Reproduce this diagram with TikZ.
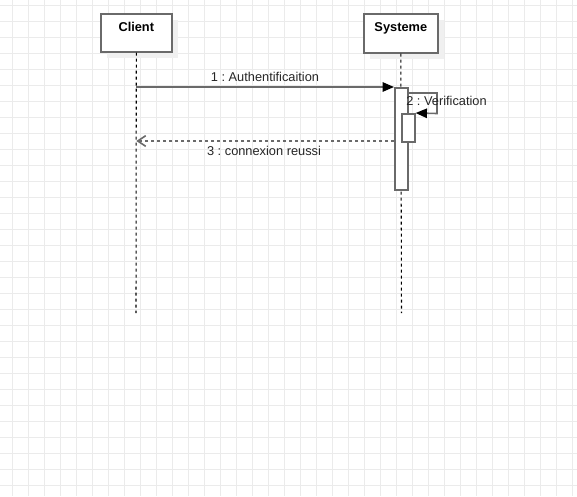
\documentclass[tikz,border=0pt]{standalone}
\usepackage{fontspec}
\setmainfont{Liberation Sans}
\usetikzlibrary{arrows.meta}
\definecolor{gridc}{HTML}{EBEBEB}
\definecolor{linec}{HTML}{6A6A6A}
\definecolor{shadowc}{HTML}{F0F0F0}
\frenchspacing
\begin{document}
\begin{tikzpicture}[x=0.75pt,y=-0.75pt,
  lifebox/.style={draw=linec,line width=1.2pt,fill=white,minimum width=71*0.75pt,minimum height=38*0.75pt,inner sep=0pt,anchor=north west,font=\fontsize{9.6}{10}\selectfont\bfseries,text depth=0pt,align=center},
  lifeline/.style={draw=black,line width=0.8pt,dash pattern=on 2.25pt off 2.25pt},
  actbar/.style={draw=linec,line width=1.2pt,fill=white,inner sep=0pt,anchor=north west},
  msg/.style={draw=linec,line width=1.2pt},
  arr/.style={-{Triangle[length=8.5pt,width=7pt,fill=black,color=black]}},
  lbl/.style={font=\fontsize{9.6}{11}\selectfont,text=black!85,inner sep=0pt}
]
\useasboundingbox (0,0) rectangle (577,496);
\fill[white] (0,0) rectangle (577,496);
% grid
\foreach \x in {12,28,...,572} \draw[gridc,line width=0.75pt] (\x,0) -- (\x,496);
\foreach \y in {5,21,...,485} \draw[gridc,line width=0.75pt] (0,\y) -- (577,\y);
% shadows
\fill[shadowc] (107,20) rectangle (178,58);
\fill[shadowc] (370,20) rectangle (444,59);
% lifelines
\coordinate (cEnd) at (136,313);
\coordinate (sEnd) at (401.5,313);
\node[lifebox] (client) at (100,13) {\raisebox{9.5pt}{Client}};
\node[lifebox,minimum width=74*0.75pt,minimum height=39*0.75pt] (sys) at (363,13) {\raisebox{10pt}{Systeme}};
\draw[lifeline] (client.south) -- (cEnd);
\draw[lifeline] (sys.south) -- (sEnd);
% activation bars
\node[actbar,minimum width=13*0.75pt,minimum height=102*0.75pt] (act1) at (394,87) {};
\node[actbar,minimum width=13*0.75pt,minimum height=28*0.75pt] (act2) at (401,113) {};
% message 1
\coordinate (m1s) at (client.south |- 0,87);
\draw[msg,arr] (m1s) -- (act1.north west);
\node[lbl] (l1) at (265,76.5) {1 : Authentificaition};
% self message
\coordinate (sm1) at (407,93);
\coordinate (sm2) at (437,93);
\coordinate (sm3) at (437,113.5);
\draw[msg,arr] (sm1) -- (sm2) -- (sm3) -- (act2.north east);
\node[lbl,anchor=west] (l2) at (406,101) {2 : Verification};
% message 3
\coordinate (m3e) at (client.south |- 0,141);
\draw[msg,dash pattern=on 2.25pt off 2.25pt,-{Straight Barb[length=6pt,width=8pt]}] (act1.west |- 0,141) -- (m3e);
\node[lbl] (l3) at (264,151) {3 : connexion reussi};
\end{tikzpicture}
\end{document}
